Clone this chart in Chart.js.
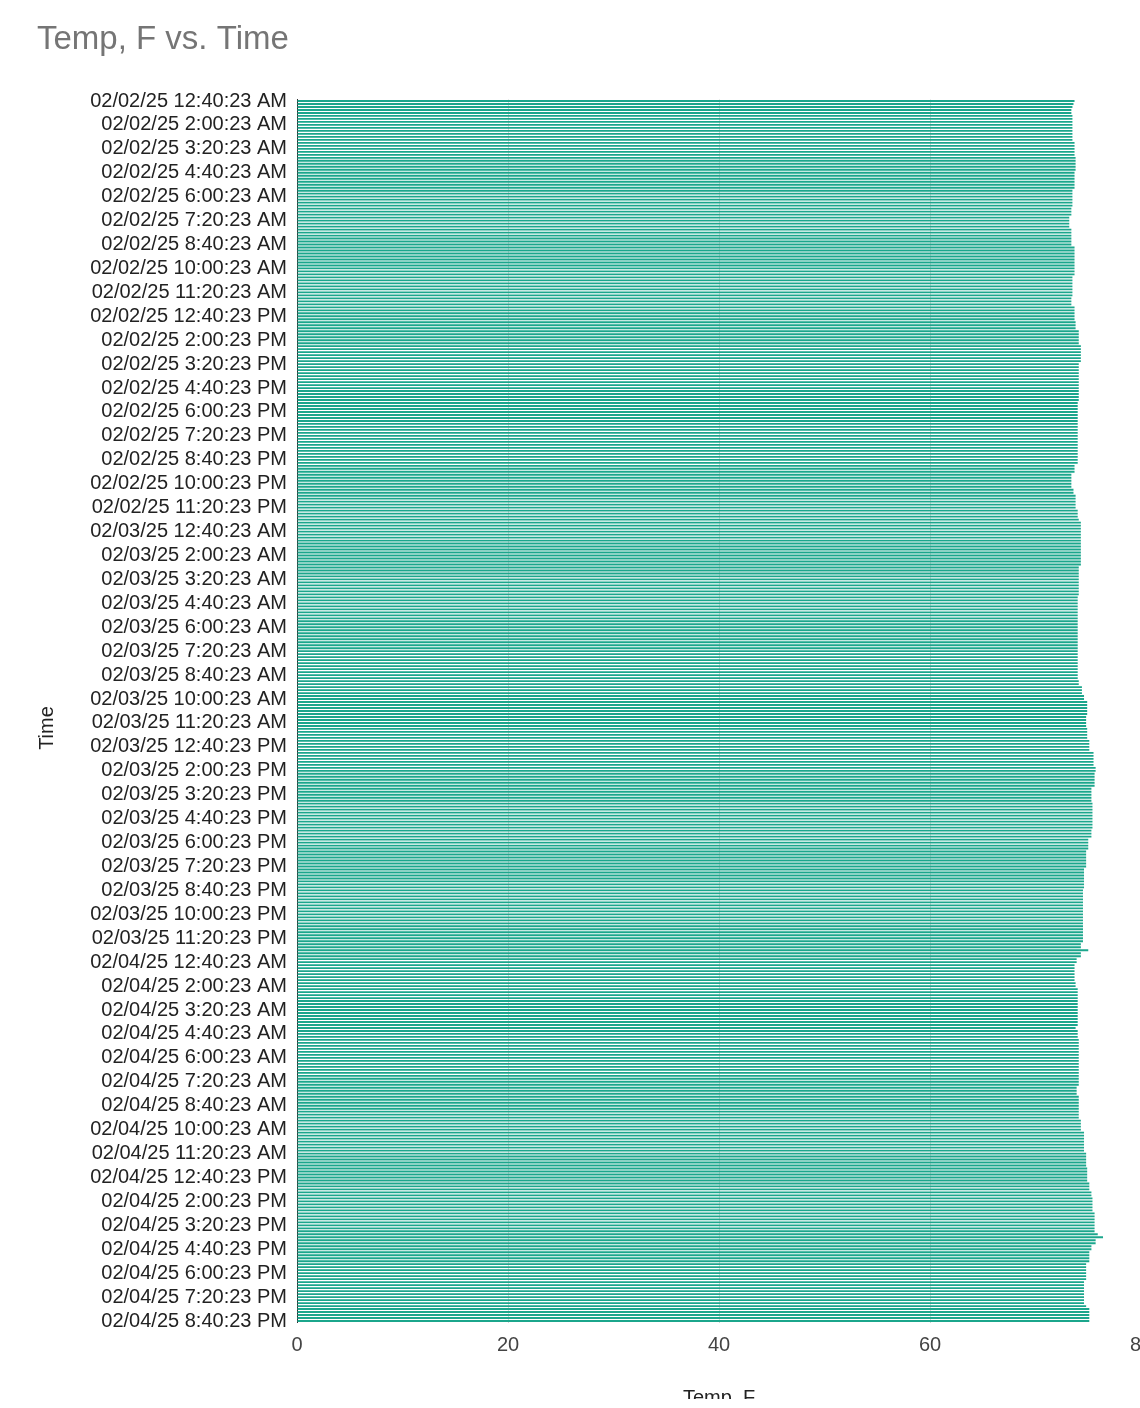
<!DOCTYPE html>
<html>
<head>
<meta charset="utf-8">
<title>Temp, F vs. Time</title>
<script src="https://cdn.jsdelivr.net/npm/chart.js"></script>
<style>
  html,body{margin:0;padding:0;background:#fff;overflow:hidden;}
  #marco{width:1140px;height:1399px;overflow:hidden;position:relative;}
  #lienzo{width:1200px;height:1440px;position:relative;}
</style>
</head>
<body>
<div id="marco"><div id="lienzo"><canvas id="bar-chart"></canvas></div></div>
<script>
// lecturas cada 10 minutos, una barra por lectura
var inicioMin = 40;      // 02/02/25 12:40:23 AM
var pasoMin = 10;
var cadaEtiqueta = 8;    // se ve una etiqueta cada 80 min
var xTicks = [0, 20, 40, 60, 80];

var temps0202 = [
  73.7, 73.6, 73.5, 73.4, 73.4, 73.5, 73.5, 73.5, 73.5, 73.5,
  73.5, 73.5, 73.5, 73.5, 73.7, 73.7, 73.7, 73.7, 73.7, 73.8,
  73.8, 73.8, 73.8, 73.8, 73.7, 73.7, 73.7, 73.7, 73.7, 73.7,
  73.5, 73.5, 73.5, 73.5, 73.5, 73.5, 73.4, 73.4, 73.4, 73.2,
  73.2, 73.2, 73.2, 73.4, 73.4, 73.4, 73.4, 73.4, 73.4, 73.7,
  73.7, 73.7, 73.7, 73.7, 73.7, 73.7, 73.7, 73.7, 73.7, 73.5,
  73.5, 73.5, 73.5, 73.5, 73.5, 73.5, 73.4, 73.4, 73.4, 73.7,
  73.7, 73.7, 73.7, 73.7, 73.8, 73.8, 73.8, 74.1, 74.1, 74.1,
  74.1, 74.1, 74.3, 74.3, 74.3, 74.3, 74.3, 74.3, 74.1, 74.1,
  74.1, 74.1, 74.1, 74.1, 74.1, 74.1, 74.1, 74.1, 74.1, 74.1,
  74.1, 74.0, 74.0, 74.0, 74.0, 74.0, 74.0, 74.0, 74.0, 74.0,
  74.0, 74.0, 74.0, 74.0, 74.0, 74.0, 74.0, 74.0, 74.0, 74.0,
  74.0, 74.0, 73.7, 73.7, 73.7, 73.4, 73.4, 73.4, 73.4, 73.4,
  73.6, 73.6, 73.8, 73.8, 73.8, 73.8, 73.8, 74.0, 74.0, 74.0
];
var temps0203 = [
  74.1, 74.3, 74.3, 74.3, 74.3, 74.3, 74.3, 74.3, 74.3, 74.3,
  74.3, 74.3, 74.3, 74.3, 74.3, 74.3, 74.1, 74.1, 74.1, 74.1,
  74.1, 74.1, 74.1, 74.1, 74.1, 74.1, 74.0, 74.0, 74.0, 74.0,
  74.0, 74.0, 74.0, 74.0, 74.0, 74.0, 74.0, 74.0, 74.0, 74.0,
  74.0, 74.0, 74.0, 74.0, 74.0, 74.0, 74.0, 74.0, 74.0, 74.0,
  74.0, 74.0, 74.0, 74.0, 74.1, 74.1, 74.4, 74.4, 74.4, 74.6,
  74.6, 74.9, 74.9, 74.9, 74.9, 74.9, 74.8, 74.8, 74.8, 74.8,
  74.9, 74.9, 74.9, 74.9, 75.1, 75.1, 75.1, 75.1, 75.5, 75.5,
  75.5, 75.5, 75.5, 75.7, 75.7, 75.6, 75.6, 75.6, 75.6, 75.6,
  75.3, 75.3, 75.3, 75.3, 75.3, 75.4, 75.4, 75.4, 75.4, 75.4,
  75.4, 75.4, 75.4, 75.4, 75.3, 75.3, 75.3, 75.0, 75.0, 75.0,
  75.0, 74.8, 74.8, 74.8, 74.8, 74.8, 74.8, 74.6, 74.6, 74.6,
  74.6, 74.6, 74.6, 74.6, 74.5, 74.5, 74.5, 74.5, 74.5, 74.5,
  74.5, 74.5, 74.5, 74.5, 74.5, 74.5, 74.5, 74.5, 74.5, 74.5,
  74.5, 74.5, 74.3, 74.3
];
var temps0204 = [
  75.0, 74.3, 74.3, 73.9, 73.9, 73.7, 73.7, 73.7, 73.7, 73.7,
  73.7, 73.8, 73.8, 74.0, 74.0, 74.0, 74.0, 74.0, 74.0, 74.0,
  74.0, 74.0, 74.0, 74.0, 74.0, 74.0, 73.8, 74.0, 74.0, 74.0,
  74.1, 74.1, 74.1, 74.1, 74.1, 74.1, 74.1, 74.1, 74.1, 74.1,
  74.1, 74.1, 74.1, 74.1, 74.1, 74.1, 73.9, 73.9, 73.9, 74.1,
  74.1, 74.1, 74.1, 74.1, 74.1, 74.1, 74.1, 74.3, 74.3, 74.3,
  74.3, 74.6, 74.6, 74.6, 74.6, 74.6, 74.6, 74.6, 74.8, 74.8,
  74.8, 74.8, 74.8, 74.9, 74.9, 74.9, 74.9, 74.9, 75.1, 75.1,
  75.1, 75.3, 75.3, 75.4, 75.4, 75.4, 75.4, 75.4, 75.6, 75.6,
  75.6, 75.6, 75.6, 75.6, 75.6, 75.9, 76.4, 75.7, 75.7, 75.3,
  75.3, 75.1, 75.1, 75.1, 75.1, 74.8, 74.8, 74.8, 74.8, 74.8,
  74.8, 74.6, 74.6, 74.6, 74.6, 74.6, 74.6, 74.6, 74.6, 74.8,
  75.1, 75.1, 75.1, 75.1, 75.1
];

var temps = temps0202.concat(temps0203, temps0204);

function dos(n){ return n < 10 ? '0' + n : '' + n; }
function etiquetaHora(m){
  var dia = 2 + Math.floor(m / 1440);
  var resto = m % 1440;
  var h = Math.floor(resto / 60), mi = resto % 60;
  var ap = h < 12 ? 'AM' : 'PM';
  var h12 = h % 12 === 0 ? 12 : h % 12;
  return '02/' + dos(dia) + '/25 ' + h12 + ':' + dos(mi) + ':23 ' + ap;
}

var horas = [];
for (var i = 0; i < temps.length; i++) horas.push(etiquetaHora(inicioMin + i * pasoMin));

var fuente = '"Liberation Sans", Arial, sans-serif';

var barra = new Chart(document.getElementById('bar-chart'), {
  type: 'bar',
  data: {
    labels: horas,
    datasets: [{
      label: 'Temp, F',
      data: temps,
      backgroundColor: '#1ba68c',
      barPercentage: 0.62,
      categoryPercentage: 1
    }]
  },
  options: {
    indexAxis: 'y',
    responsive: true,
    maintainAspectRatio: false,
    animation: false,
    layout: { padding: { left: 37, right: 59, top: 0, bottom: 0 } },
    plugins: {
      legend: { display: false },
      tooltip: { enabled: false },
      title: {
        display: true,
        text: 'Temp, F vs. Time',
        align: 'start',
        color: '#757575',
        font: { family: fuente, size: 33, weight: 'normal' },
        padding: { top: 20, bottom: 39.9 }
      }
    },
    scales: {
      x: {
        min: 0,
        max: 80,
        afterBuildTicks: function(s){ s.ticks = xTicks.map(function(v){ return { value: v }; }); },
        ticks: { color: '#444', padding: 11, font: { family: fuente, size: 20 } },
        grid: {
          drawTicks: false,
          color: function(ctx){ return ctx.tick && ctx.tick.value === 0 ? '#333' : '#d6d6d6'; }
        },
        border: { display: false },
        title: {
          display: true, text: 'Temp, F', color: '#222',
          font: { family: fuente, size: 20, lineHeight: 1 },
          padding: { top: 0, bottom: 32 }
        },
        afterFit: function(s){ s.height = 117.5; }
      },
      y: {
        ticks: {
          autoSkip: false,
          color: '#222',
          padding: 10,
          font: { family: fuente, size: 20 },
          callback: function(v, i){ return i % cadaEtiqueta === 0 ? this.getLabelForValue(v) : ''; }
        },
        grid: { display: false, drawTicks: false },
        border: { display: true, color: '#333', width: 1 },
        title: {
          display: true, text: 'Time\u2002\u2002\u2002\u2009', color: '#222',
          font: { family: fuente, size: 20, lineHeight: 1 },
          padding: 0
        },
        afterFit: function(s){ s.width = 260; }
      }
    }
  }
});
</script>
</body>
</html>
